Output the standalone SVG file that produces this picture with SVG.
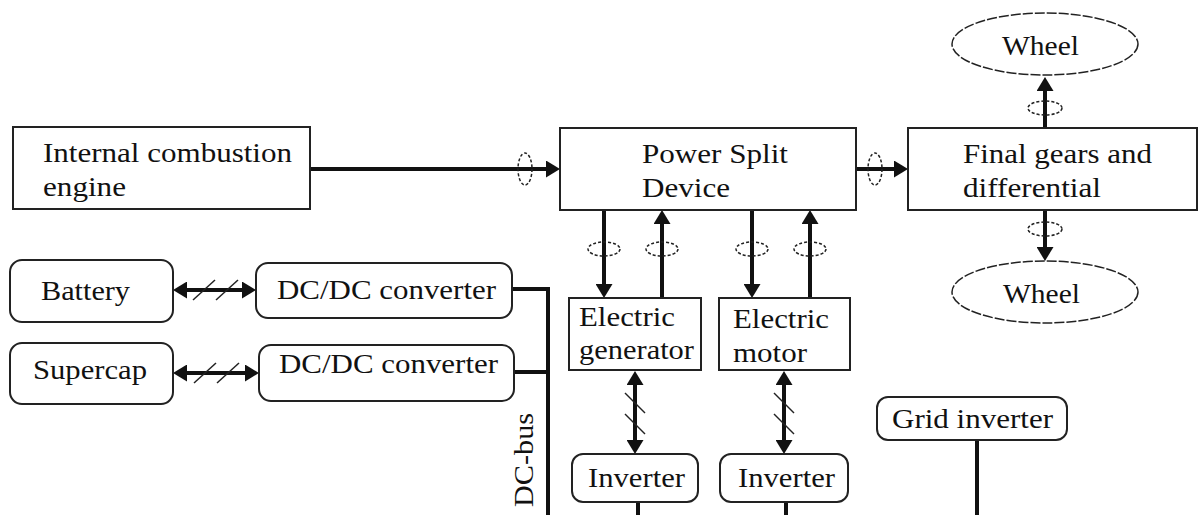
<svg xmlns="http://www.w3.org/2000/svg" width="1200" height="515" viewBox="0 0 1200 515">
<style>
.box{fill:#fff;stroke:#222;stroke-width:2}
.t{font-family:'Liberation Serif','Times New Roman',serif;font-size:27px;fill:#111}
.w{stroke:#111;stroke-width:4;fill:none}
.clutch{fill:none;stroke:#222;stroke-width:1.5;stroke-dasharray:3 2}
.wh{fill:#fff;stroke:#222;stroke-width:1.5;stroke-dasharray:10 2}
.sl{stroke:#222;stroke-width:1.5}
</style>
<defs>
<marker id="ah" markerUnits="userSpaceOnUse" markerWidth="14" markerHeight="17" refX="0" refY="8.5" orient="auto-start-reverse" viewBox="0 0 14 17">
<path d="M0,0 L14,8.5 L0,17 z" fill="#111"/>
</marker>
</defs>
<rect width="1200" height="515" fill="#fff"/>

<g id="connectors">
<line class="w" x1="310" y1="169" x2="546" y2="169" marker-end="url(#ah)"/>
<ellipse class="clutch" cx="525" cy="169" rx="7" ry="16"/>
<line class="w" x1="856" y1="169" x2="894" y2="169" marker-end="url(#ah)"/>
<ellipse class="clutch" cx="875" cy="169" rx="7" ry="16"/>
<line class="w" x1="1045" y1="127" x2="1045" y2="91" marker-end="url(#ah)"/>
<ellipse class="clutch" cx="1045" cy="108" rx="17" ry="7"/>
<line class="w" x1="1045" y1="210" x2="1045" y2="247" marker-end="url(#ah)"/>
<ellipse class="clutch" cx="1045" cy="229" rx="17" ry="7"/>
<line class="w" x1="604" y1="210" x2="604" y2="284" marker-end="url(#ah)"/>
<ellipse class="clutch" cx="604" cy="249" rx="16" ry="7"/>
<line class="w" x1="662" y1="298" x2="662" y2="224" marker-end="url(#ah)"/>
<ellipse class="clutch" cx="662" cy="249" rx="16" ry="7"/>
<line class="w" x1="752" y1="210" x2="752" y2="284" marker-end="url(#ah)"/>
<ellipse class="clutch" cx="752" cy="249" rx="16" ry="7"/>
<line class="w" x1="810" y1="298" x2="810" y2="224" marker-end="url(#ah)"/>
<ellipse class="clutch" cx="810" cy="249" rx="16" ry="7"/>
<line class="w" x1="635" y1="385" x2="635" y2="440" marker-start="url(#ah)" marker-end="url(#ah)"/>
<line class="sl" x1="625" y1="393" x2="645" y2="413"/>
<line class="sl" x1="625" y1="414" x2="645" y2="434"/>
<line class="w" x1="784" y1="385" x2="784" y2="440" marker-start="url(#ah)" marker-end="url(#ah)"/>
<line class="sl" x1="774" y1="393" x2="794" y2="413"/>
<line class="sl" x1="774" y1="414" x2="794" y2="434"/>
<line class="w" x1="187" y1="290" x2="242" y2="290" marker-start="url(#ah)" marker-end="url(#ah)"/>
<line class="sl" x1="193" y1="300" x2="215" y2="280"/>
<line class="sl" x1="216" y1="300" x2="238" y2="280"/>
<line class="w" x1="187" y1="373" x2="245" y2="373" marker-start="url(#ah)" marker-end="url(#ah)"/>
<line class="sl" x1="194" y1="383" x2="216" y2="363"/>
<line class="sl" x1="217" y1="383" x2="239" y2="363"/>
<polyline class="w" points="512,289 548,289 548,515"/>
<line class="w" x1="514" y1="372" x2="548" y2="372"/>
<line class="w" x1="638" y1="502" x2="638" y2="515"/>
<line class="w" x1="786" y1="502" x2="786" y2="515"/>
<line class="w" x1="977" y1="440" x2="977" y2="515"/>
<text class="t" transform="translate(533,507) rotate(-90)" textLength="94" lengthAdjust="spacingAndGlyphs">DC-bus</text>
</g>

<g id="ice">
<rect class="box" x="13" y="127" width="297" height="82"/>
<text class="t" x="43" y="162" textLength="249" lengthAdjust="spacingAndGlyphs">Internal combustion</text>
<text class="t" x="43" y="196" textLength="83" lengthAdjust="spacingAndGlyphs">engine</text>
</g>
<g id="psd">
<rect class="box" x="560" y="128" width="296" height="82"/>
<text class="t" x="642" y="163" textLength="146" lengthAdjust="spacingAndGlyphs">Power Split</text>
<text class="t" x="642" y="197" textLength="88" lengthAdjust="spacingAndGlyphs">Device</text>
</g>
<g id="final-gears">
<rect class="box" x="908" y="128" width="289" height="82"/>
<text class="t" x="963" y="163" textLength="189" lengthAdjust="spacingAndGlyphs">Final gears and</text>
<text class="t" x="963" y="197" textLength="138" lengthAdjust="spacingAndGlyphs">differential</text>
</g>
<g id="wheel-top">
<ellipse class="wh" cx="1045" cy="44" rx="93" ry="31"/>
<text class="t" x="1002" y="55" textLength="77" lengthAdjust="spacingAndGlyphs">Wheel</text>
</g>
<g id="wheel-bottom">
<ellipse class="wh" cx="1045" cy="292" rx="93" ry="31"/>
<text class="t" x="1003" y="303" textLength="77" lengthAdjust="spacingAndGlyphs">Wheel</text>
</g>
<g id="battery">
<rect class="box" x="10" y="260" width="163" height="62" rx="12"/>
<text class="t" x="41" y="300" textLength="89" lengthAdjust="spacingAndGlyphs">Battery</text>
</g>
<g id="dcdc1">
<rect class="box" x="256" y="263" width="256" height="55" rx="12"/>
<text class="t" x="277" y="299" textLength="219" lengthAdjust="spacingAndGlyphs">DC/DC converter</text>
</g>
<g id="supercap">
<rect class="box" x="10" y="343" width="163" height="61" rx="12"/>
<text class="t" x="33" y="379" textLength="114" lengthAdjust="spacingAndGlyphs">Supercap</text>
</g>
<g id="dcdc2">
<rect class="box" x="259" y="345" width="255" height="56" rx="12"/>
<text class="t" x="279" y="373" textLength="219" lengthAdjust="spacingAndGlyphs">DC/DC converter</text>
</g>
<g id="generator">
<rect class="box" x="569" y="298" width="132" height="72"/>
<text class="t" x="579" y="326" textLength="96" lengthAdjust="spacingAndGlyphs">Electric</text>
<text class="t" x="579" y="359" textLength="115" lengthAdjust="spacingAndGlyphs">generator</text>
</g>
<g id="motor">
<rect class="box" x="719" y="298" width="131" height="72"/>
<text class="t" x="733" y="328" textLength="96" lengthAdjust="spacingAndGlyphs">Electric</text>
<text class="t" x="733" y="362" textLength="74" lengthAdjust="spacingAndGlyphs">motor</text>
</g>
<g id="inverter1">
<rect class="box" x="572" y="454" width="126" height="48" rx="11"/>
<text class="t" x="588" y="487" textLength="97" lengthAdjust="spacingAndGlyphs">Inverter</text>
</g>
<g id="inverter2">
<rect class="box" x="720" y="454" width="128" height="48" rx="11"/>
<text class="t" x="738" y="487" textLength="97" lengthAdjust="spacingAndGlyphs">Inverter</text>
</g>
<g id="grid-inverter">
<rect class="box" x="877" y="397" width="190" height="43" rx="11"/>
<text class="t" x="892" y="428" textLength="161" lengthAdjust="spacingAndGlyphs">Grid inverter</text>
</g>
</svg>
